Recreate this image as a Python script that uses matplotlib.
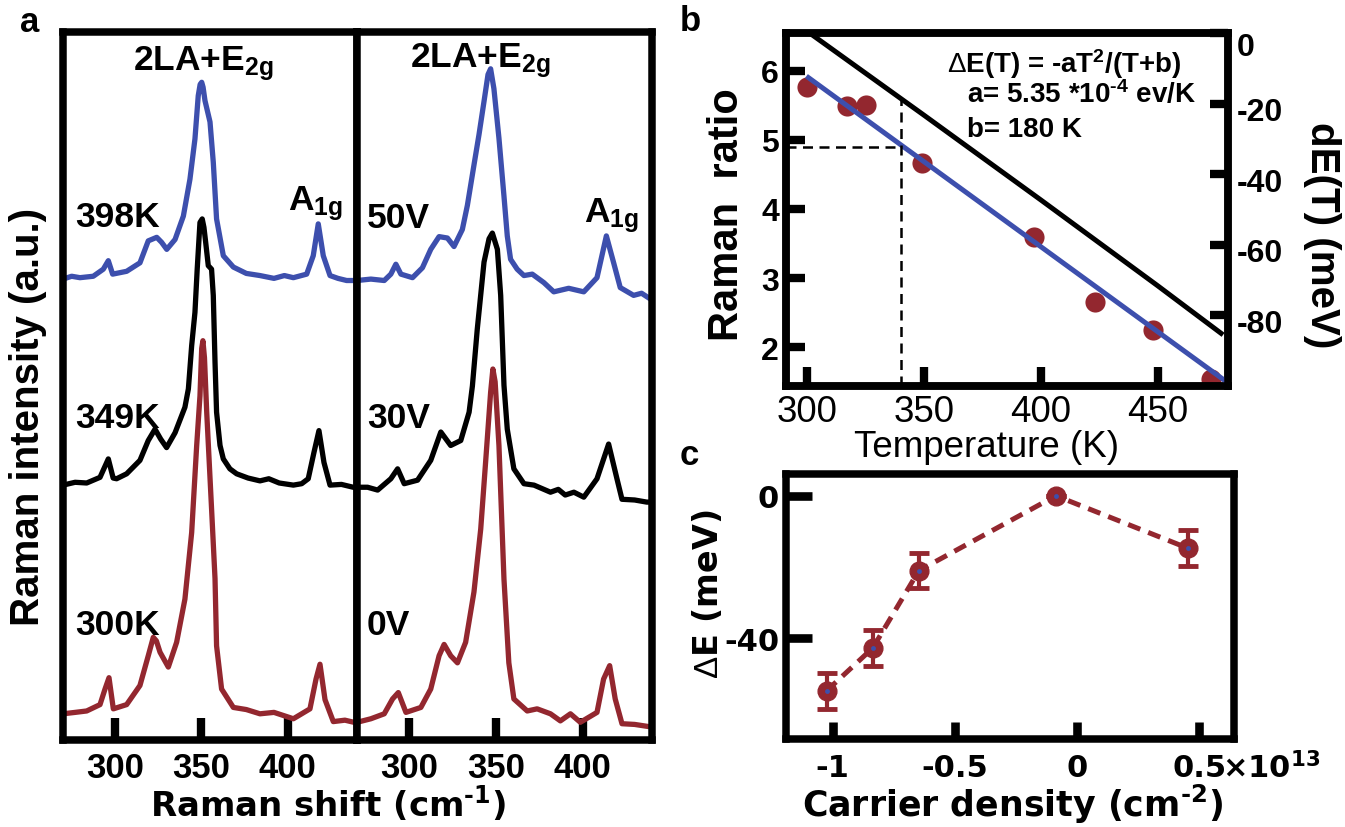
import numpy as np
import matplotlib
matplotlib.use("Agg")
import matplotlib.pyplot as plt
from matplotlib.transforms import ScaledTranslation

plt.rcParams.update({
    "font.family": "Liberation Sans",
    "mathtext.fontset": "custom",
    "mathtext.rm": "Liberation Sans",
    "mathtext.bf": "Liberation Sans:bold",
    "mathtext.it": "Liberation Sans:italic",
    "mathtext.default": "regular",
    "axes.unicode_minus": False,
})

# ---------------- data ----------------
# (a) Raman spectra, temperature series (intensity above each trace's baseline, a.u.)
shift_300K = [270, 277, 283.7, 291.4, 294.3, 296.6, 299.1, 306.8, 314.5, 319.3, 322.2, 324.0, 326.1,
              330.9, 335.7, 340.5, 344.4, 347.3, 349.2, 350.2, 350.9, 351.8, 353.1, 356.0, 357.9,
              358.8, 361.7, 368.5, 376, 383.9, 392, 403.2, 412.8, 416.3, 418.6, 421.5, 426.3, 433, 440]
int_300K = [3.7, 3.9, 4.1, 5.0, 7.2, 8.8, 4.4, 5.0, 7.7, 11.9, 14.5, 14.0, 12.4,
            10.3, 13.8, 19.9, 29.3, 41.6, 48.6, 55.3, 56.4, 54.0, 46.3, 32.2, 22.8,
            13.3, 7.2, 4.6, 4.3, 3.7, 3.9, 3.0, 4.4, 8.6, 10.7, 5.7, 2.6, 2.8, 2.4]

shift_349K = [270, 277, 283.7, 291.4, 296.2, 299.0, 301.0, 306.8, 314.5, 319.3, 323.2, 326.5, 329.9,
              334.8, 340.5, 342.5, 344.4, 346.3, 347.6, 349.2, 350.5, 351.5, 352.5, 354.0, 355.9,
              356.9, 357.9, 358.8, 360.8, 362.7, 366.5, 370.4, 377, 383.9, 389, 395.0, 403.2, 408,
              411.8, 415.1, 418.0, 420.9, 424.4, 431, 437.8, 440]
int_349K = [4.0, 4.4, 4.3, 5.1, 7.7, 5.0, 4.9, 5.6, 7.5, 10.3, 11.9, 10.5, 9.3,
            11.4, 15.0, 17.6, 23.7, 28.4, 34.5, 41.1, 41.6, 40.4, 38.3, 35.0, 34.5,
            30.8, 21.4, 14.3, 9.6, 7.7, 6.3, 5.6, 5.0, 4.6, 4.9, 4.3, 4.0, 4.2,
            4.9, 8.6, 11.7, 7.2, 4.0, 4.1, 3.7, 3.6]

shift_398K = [270, 275, 279.8, 287.5, 293.3, 296.2, 298.7, 306.8, 314.5, 319.3, 324.2, 327.0, 330.0,
              334.8, 339.6, 343.4, 346.3, 348.2, 349.3, 350.2, 351.0, 352.1, 355.0, 356.9, 358.8,
              362.7, 368.5, 376, 383.9, 392, 398, 403.2, 410.9, 414.7, 417.6, 420.5, 424.4, 429,
              434.0, 440]
int_398K = [4.1, 4.5, 4.3, 4.5, 5.5, 6.7, 4.8, 5.2, 6.4, 9.5, 10.0, 9.3, 8.3,
            9.7, 13.0, 18.2, 23.9, 30.0, 31.6, 31.9, 31.2, 29.3, 26.3, 20.6, 12.6,
            7.4, 5.8, 4.9, 4.6, 4.2, 4.6, 4.3, 4.8, 7.4, 11.9, 7.4, 4.6, 4.2,
            3.9, 3.9]

# (a) Raman spectra, gate-voltage series
shift_0V = [270, 278.0, 285.7, 290.5, 293.8, 298.2, 306.8, 312.5, 317.3, 320.2, 324.0, 327.9, 332.6,
            337.4, 341.3, 344.1, 347.0, 348.3, 349.6, 351.8, 354.7, 357.5, 360.4, 368.1, 373.8,
            381.5, 387.2, 393.0, 398.7, 408.3, 412.1, 415.6, 418.8, 422.7, 430, 438.0, 440]
int_0V = [2.5, 3.0, 3.7, 5.8, 6.7, 3.9, 4.6, 7.2, 11.9, 13.5, 11.9, 10.9, 13.8,
          20.9, 29.8, 39.2, 49.1, 52.4, 50.6, 41.6, 22.7, 10.9, 5.8, 4.1, 4.4,
          3.7, 2.7, 3.7, 2.5, 3.9, 8.6, 10.5, 5.8, 2.3, 2.2, 1.9, 1.9]

shift_30V = [270, 276.1, 281.9, 289.5, 293.4, 297.2, 304.9, 312.5, 318.3, 324.0, 329.8, 334.6, 336.5,
             339.3, 343.2, 346.1, 348.0, 350.9, 352.8, 354.7, 356.6, 360.4, 366.2, 372, 381.5,
             386, 390, 395, 400.7, 408.3, 415.0, 419.8, 422.7, 430, 437.0, 440]
int_30V = [3.7, 3.7, 3.3, 4.9, 6.3, 4.2, 4.7, 7.5, 11.5, 9.6, 10.3, 14.3, 18.0,
           26.0, 35.5, 38.8, 39.6, 37.3, 30.8, 18.1, 11.9, 6.3, 4.2, 4.0, 3.0,
           3.4, 2.6, 3.0, 2.3, 4.9, 9.8, 4.9, 2.0, 1.9, 1.6, 1.6]

shift_50V = [270, 278.0, 285.7, 289.5, 292.4, 295.3, 302.0, 307.7, 312.5, 317.3, 322.1, 325.9, 330.7,
             333.6, 337.4, 340.3, 343.2, 345.5, 347.0, 348.9, 351.8, 354.7, 356.6, 358.5, 362.3,
             366.2, 371, 377.7, 383.4, 392, 400.7, 408.3, 413.7, 417.9, 421.7, 429.4, 434, 439.0]
int_50V = [3.9, 4.1, 3.9, 4.8, 6.2, 4.8, 4.3, 5.7, 8.3, 10.1, 9.9, 8.7, 11.1,
           14.5, 20.2, 24.5, 29.2, 33.0, 33.8, 31.0, 24.0, 15.8, 10.2, 6.9, 5.5,
           4.6, 4.8, 3.6, 2.3, 2.8, 2.3, 4.3, 10.2, 6.4, 2.9, 1.8, 2.1, 1.3]

temp_labels = ["300K", "349K", "398K"]
gate_labels = ["0V", "30V", "50V"]

# (b) Raman intensity ratio vs temperature
T_K = [300, 317, 325, 349, 397, 423, 448, 473]
raman_ratio = [5.76, 5.49, 5.50, 4.67, 3.59, 2.66, 2.25, 1.54]
fit_T = [300.5, 479.5]
fit_ratio = [5.90, 1.50]
# dE(T) = -aT^2/(T+b) relative to 300 K, a = 5.35e-4 eV/K, b = 180 K
model_T = [301, 350, 400, 450, 478]
model_dE = [0.0, -23.3, -47.3, -71.6, -85.5]
ref_T = 340
ref_ratio = 4.9

# (c) band-gap shift vs carrier density (units of 1e13 cm^-2)
density = [-1.025, -0.836, -0.647, -0.086, 0.454]
delta_E = [-54.7, -42.7, -21.0, 0.0, -14.7]
delta_E_err = [5.1, 5.0, 4.9, 0.0, 5.0]

# ---------------- styling ----------------
W, H = 1345, 828
RED = "#93272f"
BLUE = "#3d4fad"
SPINE_LW = 5.4
TRACE_LW = 3.8
STACK_OFFSETS = [0, 32, 61]
BOLD = dict(fontweight="bold")
DJ = ["DejaVu Sans"]
HY = "\u2010"  # short hyphen for superscript exponents

fig = plt.figure(figsize=(W / 100, H / 100), dpi=100)


def rect(x0, y0, x1, y1):
    return [x0 / W, 1 - y1 / H, (x1 - x0) / W, (y1 - y0) / H]


def fxy(x, y):
    return x / W, 1 - y / H


def thick_frame(ax):
    for s in ax.spines.values():
        s.set_linewidth(SPINE_LW)


# ---------------- panel a ----------------
axL = fig.add_axes(rect(63, 33, 357, 741))
axR = fig.add_axes(rect(357, 33, 652, 741))
series = [
    (axL, [(shift_398K, int_398K, BLUE, 2), (shift_349K, int_349K, "black", 1), (shift_300K, int_300K, RED, 0)]),
    (axR, [(shift_50V, int_50V, BLUE, 2), (shift_30V, int_30V, "black", 1), (shift_0V, int_0V, RED, 0)]),
]
for ax, traces in series:
    for shift, inten, color, k in traces:
        ax.plot(shift, np.asarray(inten) + STACK_OFFSETS[k], color=color, lw=TRACE_LW,
                solid_joinstyle="round", solid_capstyle="round")
    ax.set_xlim(270, 440)
    ax.set_ylim(0, 100)
    ax.set_yticks([])
    ax.set_xticks([300, 350, 400], labels=["300", "350", "400"], fontsize=25, fontweight="bold")
    ax.tick_params(axis="x", direction="in", length=16, width=6, pad=8)
    thick_frame(ax)

for txt, x, y in [("2LA+E$_{2g}$", 133, 70), ("2LA+E$_{2g}$", 410, 67),
                  ("A$_{1g}$", 288, 210), ("A$_{1g}$", 584, 222)]:
    fig.text(*fxy(x, y), txt, fontsize=25.5, va="baseline", ha="left", **BOLD)
for txt, y in zip(temp_labels, [635, 428, 227]):
    fig.text(*fxy(75, y), txt, fontsize=25.5, va="baseline", ha="left", **BOLD)
for txt, y in zip(gate_labels, [635, 428, 228]):
    fig.text(*fxy(367, y), txt, fontsize=25.5, va="baseline", ha="left", **BOLD)

fig.text(*fxy(328, 817), "Raman shift (cm$^{" + HY + "1}$)", fontsize=24.5, family=DJ,
         ha="center", va="baseline", **BOLD)
fig.text(*fxy(28, 417), "Raman intensity (a.u.)", fontsize=29, rotation=90,
         ha="center", va="center", **BOLD)
fig.text(*fxy(20, 32), "a", fontsize=25, ha="left", va="baseline", **BOLD)

# ---------------- panel b ----------------
axb = fig.add_axes(rect(786, 34, 1228, 387))
axb.plot(T_K, raman_ratio, "o", color=RED, ms=14.5, mec="none", zorder=2)
axb.plot(fit_T, fit_ratio, color=BLUE, lw=3.6, zorder=3)
axb.set_xlim(290.9, 480.1)
axb.set_ylim(1.44, 6.545)
axb.plot([axb.get_xlim()[0], ref_T], [ref_ratio, ref_ratio], color="black", lw=1.8,
         ls=(0, (4, 2.6)), zorder=1)

axb2 = axb.twinx()
axb2.plot(model_T, model_dE, color="black", lw=3.6, solid_capstyle="butt")
axb2.set_ylim(-100, 0)
axb2.plot([ref_T, ref_T], [-100, np.interp(ref_T, model_T, model_dE)], color="black", lw=1.8,
          ls=(0, (4, 2.6)), zorder=1)

axb.set_xticks([300, 350, 400, 450], labels=["300", "350", "400", "450"], fontsize=26.5)
axb.set_yticks([2, 3, 4, 5, 6], labels=["2", "3", "4", "5", "6"], fontsize=23, fontweight="bold")
axb2.set_yticks([-80, -60, -40, -20, 0], labels=["-80", "-60", "-40", "-20", "0"],
                fontsize=23, fontweight="bold")
axb.tick_params(axis="x", direction="in", length=14, width=6, pad=6)
axb.tick_params(axis="y", direction="in", length=14, width=6, pad=5)
axb2.tick_params(axis="y", direction="in", length=13, width=6, pad=6)
thick_frame(axb)
thick_frame(axb2)
# right-axis labels sit a little below their ticks; the top one clears the frame
for tick, dy in zip(axb2.yaxis.get_major_ticks(), [5, 5, 5, 5, 11]):
    tick.label2.set_transform(tick.label2.get_transform()
                              + ScaledTranslation(0, -dy / 100, fig.dpi_scale_trans))

fig.text(*fxy(947, 73), r"$\mathrm{\Delta}$E(T) = -aT$^{2}$/(T+b)", fontsize=20,
         ha="left", va="baseline", **BOLD)
fig.text(*fxy(967, 103), "a= 5.35 *10$^{" + HY + "4}$ ev/K", fontsize=20, ha="left", va="baseline", **BOLD)
fig.text(*fxy(967, 137), "b= 180 K", fontsize=20, ha="left", va="baseline", **BOLD)

fig.text(*fxy(727, 215), "Raman  ratio", fontsize=30, rotation=90, ha="center", va="center", **BOLD)
fig.text(*fxy(1322, 235), "dE(T) (meV)", fontsize=29, rotation=270, ha="center", va="center", **BOLD)
fig.text(*fxy(986, 457), "Temperature (K)", fontsize=26.5, ha="center", va="baseline")
fig.text(*fxy(680, 31), "b", fontsize=25, ha="left", va="baseline", **BOLD)

# ---------------- panel c ----------------
axc = fig.add_axes(rect(786, 475, 1234, 740))
axc.plot(density, delta_E, color=RED, lw=3.6, ls=(0, (2.6, 1.7)), zorder=2)
axc.errorbar(density, delta_E, yerr=delta_E_err, fmt="o", color=RED, ms=13.5, mec=RED,
             ecolor=RED, elinewidth=3, capsize=7, capthick=3.5, zorder=3)
axc.plot(density, delta_E, "o", color=BLUE, ms=3.5, mec="none", zorder=4)
axc.set_xlim(-1.191, 0.643)
axc.set_ylim(-68.2, 6.1)
axc.set_xticks([-1, -0.5, 0, 0.5], labels=["-1", "-0.5", "0", "0.5"],
               fontsize=22, fontweight="bold", family=DJ)
axc.set_yticks([-40, 0], labels=["-40", "0"], fontsize=22, fontweight="bold", family=DJ)
axc.tick_params(axis="x", direction="in", length=12, width=6.2, pad=10)
axc.tick_params(axis="y", direction="in", length=19, width=6.2, pad=5)
thick_frame(axc)

fig.text(*fxy(1222, 778), r"$\times$10$^{13}$", fontsize=22, family=DJ, ha="left", va="baseline", **BOLD)
fig.text(*fxy(1013, 817), "Carrier density (cm$^{" + HY + "2}$)", fontsize=25, family=DJ,
         ha="center", va="baseline", **BOLD)
fig.text(*fxy(708, 594), r"$\mathrm{\Delta}$E (meV)", fontsize=24, family=DJ, rotation=90,
         ha="center", va="center", **BOLD)
fig.text(*fxy(680, 465), "c", fontsize=25, ha="left", va="baseline", **BOLD)

fig.savefig("out.png", dpi=100)
